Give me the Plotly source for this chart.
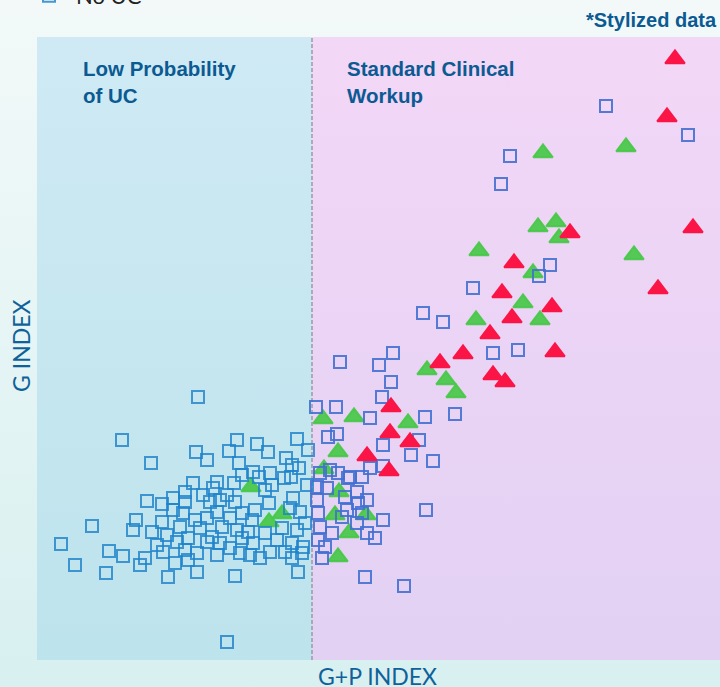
import base64
import plotly.graph_objects as go

# ---------------- data (stylized index units) ----------------
threshold_gp = 275          # G+P index cut-off (dashed line)
x_max, y_max = 683, 623     # axis extents

no_uc_x = [85,55,24,72,86,38,69,161,190,
           200,220,260,159,192,231,271,114,170,202,249,255,262,205,216,222,233,247,254,
           156,180,197,235,270,148,176,190,228,110,125,136,148,166,173,183,198,218,232,256,263,
           99,125,136,146,158,170,180,193,205,215,253,268,96,115,130,143,163,175,185,200,211,228,245,260,
           120,140,151,170,183,193,205,216,240,255,266,126,148,160,180,203,213,233,248,265,
           108,103,138,151,223,255,131,160,198,261,
           291,300,283,293,311,325,280,290,308,320,330,280,321,310,325,281,305,283,320,346,295,330,281,338,288,285,
           328,303,356,342,354,345,279,299,333,388,418,382,346,374,396,333,346,313,301,464,513,502,436,386,406,456,
           481,569,651,473,389,367]
no_uc_y = [220,134,116,109,104,95,87,263,18,
           220,216,221,208,209,208,210,197,200,197,202,195,192,185,188,183,187,182,183,
           177,178,177,175,175,168,172,165,170,159,156,162,158,165,158,160,158,150,157,162,148,
           140,138,150,147,140,142,148,142,147,140,152,137,130,128,125,133,132,123,133,130,128,127,132,130,
           115,118,122,118,117,112,122,117,120,117,113,108,110,107,105,107,105,108,108,107,
           102,95,97,100,102,102,83,88,84,88,
           223,226,187,190,182,183,173,172,163,168,160,160,157,150,147,147,143,133,137,140,127,127,120,122,113,102,
           83,298,307,295,278,263,253,253,242,243,246,220,215,205,199,192,194,183,187,476,395,384,372,347,338,307,
           310,554,525,504,150,74]

uc_green_x = [506,589,501,519,522,442,496,486,439,503,597,390,409,419,286,317,371,301,287,302,214,245,232,298,329,312,301]
uc_green_y = [507,513,433,438,422,409,387,357,340,340,405,290,280,267,241,243,237,208,191,168,173,146,138,145,145,127,103]

uc_red_x = [638,630,656,621,533,477,465,515,475,453,426,518,403,456,468,354,353,373,330,352]
uc_red_y = [601,543,432,371,427,397,367,353,342,326,306,308,297,285,278,253,227,218,204,189]

# ---------------- styling ----------------
W, H = 720, 687
M = dict(l=37, r=0, t=37, b=27, autoexpand=False)
TEXT_DARK = "#0b5a92"
TEXT_AXIS = "#0f6299"

fig = go.Figure()

# region backgrounds (gradient fills)
fig.add_trace(go.Scatter(
    x=[0, threshold_gp, threshold_gp, 0, 0], y=[0, 0, y_max, y_max, 0],
    mode="lines", line=dict(width=0), fill="toself",
    fillgradient=dict(type="vertical", colorscale=[[0, "#bde3ec"], [1, "#cfeaf4"]]),
    hoverinfo="skip", showlegend=False))
fig.add_trace(go.Scatter(
    x=[threshold_gp, x_max, x_max, threshold_gp, threshold_gp], y=[0, 0, y_max, y_max, 0],
    mode="lines", line=dict(width=0), fill="toself",
    fillgradient=dict(type="vertical", colorscale=[[0, "#e2d1f3"], [1, "#f3d7f7"]]),
    hoverinfo="skip", showlegend=False))

# divider
fig.add_trace(go.Scatter(
    x=[threshold_gp, threshold_gp], y=[0, y_max], mode="lines",
    line=dict(color="#9a9aa6", width=1.5, dash="4px,2px"),
    hoverinfo="skip", showlegend=False))

# green triangles
fig.add_trace(go.Scatter(
    x=uc_green_x, y=uc_green_y, mode="markers", name="UC (green)",
    marker=dict(symbol="triangle-up", size=17, color="rgba(72,200,72,0.92)",
                line=dict(color="rgba(72,200,72,0.92)", width=2)),
    showlegend=False))

# squares split by region colour
left_x = [x for x in no_uc_x if x < threshold_gp]
left_y = [y for x, y in zip(no_uc_x, no_uc_y) if x < threshold_gp]
right_x = [x for x in no_uc_x if x >= threshold_gp]
right_y = [y for x, y in zip(no_uc_x, no_uc_y) if x >= threshold_gp]
fig.add_trace(go.Scatter(
    x=left_x, y=left_y, mode="markers", name="No UC",
    marker=dict(symbol="square-open", size=12, color="rgba(30,130,202,0.82)",
                line=dict(width=2)),
    showlegend=True))
fig.add_trace(go.Scatter(
    x=right_x, y=right_y, mode="markers", name="No UC",
    marker=dict(symbol="square-open", size=12, color="rgba(66,112,208,0.9)",
                line=dict(width=2)),
    showlegend=False))

# red triangles
fig.add_trace(go.Scatter(
    x=uc_red_x, y=uc_red_y, mode="markers", name="UC (red)",
    marker=dict(symbol="triangle-up", size=17, color="#fb1547",
                line=dict(color="#fb1547", width=2)),
    showlegend=False))

# page background gradient
svg = ('<svg xmlns="http://www.w3.org/2000/svg" width="720" height="687" preserveAspectRatio="none">'
       '<defs><linearGradient id="g" x1="0" y1="0" x2="0" y2="1">'
       '<stop offset="0" stop-color="#f3f9f9"/><stop offset="1" stop-color="#d8f0f0"/>'
       '</linearGradient></defs><rect width="720" height="687" fill="url(#g)"/></svg>')
src = "data:image/svg+xml;base64," + base64.b64encode(svg.encode()).decode()
pw = W - M["l"] - M["r"]
ph = H - M["t"] - M["b"]

def px_x(p):
    return (p - M["l"]) / pw

def px_y(p):
    return (H - M["b"] - p) / ph

fig.add_layout_image(dict(source=src, xref="paper", yref="paper",
                          x=px_x(0), y=px_y(0), sizex=W / pw, sizey=H / ph,
                          xanchor="left", yanchor="top", sizing="stretch", layer="below"))

bold = dict(family="Liberation Sans, Arial, sans-serif", size=20.5, color=TEXT_DARK)
axis_font = dict(family="Lato, sans-serif", size=23, color=TEXT_AXIS, weight=400)
annotations = [
    dict(text="<b>Low Probability<br>of UC</b>", x=px_x(81), y=px_y(55), xanchor="left", yanchor="top",
         align="left", font=bold),
    dict(text="<b>Standard Clinical<br>Workup</b>", x=px_x(345), y=px_y(55), xanchor="left", yanchor="top",
         align="left", font=bold),
    dict(text="<b>*Stylized data</b>", x=px_x(719), y=px_y(20), xanchor="right", yanchor="middle",
         font=dict(family="Liberation Sans, Arial, sans-serif", size=20, color=TEXT_DARK)),
    dict(text="G+P INDEX", x=px_x(377), y=px_y(676), xanchor="center", yanchor="middle", font=axis_font),
    dict(text="G INDEX", x=px_x(21), y=px_y(346), xanchor="center", yanchor="middle", textangle=-90,
         font=axis_font),
]
for a in annotations:
    a.update(xref="paper", yref="paper", showarrow=False)

fig.update_layout(
    width=W, height=H, margin=M,
    paper_bgcolor="#e9f5f6", plot_bgcolor="rgba(0,0,0,0)",
    annotations=annotations,
    legend=dict(x=px_x(22), y=px_y(-4), xanchor="left", yanchor="middle", itemwidth=44,
                font=dict(family="Lato, sans-serif", size=22, color="#222"),
                bgcolor="rgba(0,0,0,0)"),
    xaxis=dict(range=[0, x_max], showgrid=False, zeroline=False, showticklabels=False,
               showline=False, ticks="", fixedrange=True),
    yaxis=dict(range=[0, y_max], showgrid=False, zeroline=False, showticklabels=False,
               showline=False, ticks="", fixedrange=True),
    hovermode=False,
)

fig.write_html("out.html", config={"displayModeBar": False},
               post_script="document.body.style.margin='0';document.body.style.padding='0';")
